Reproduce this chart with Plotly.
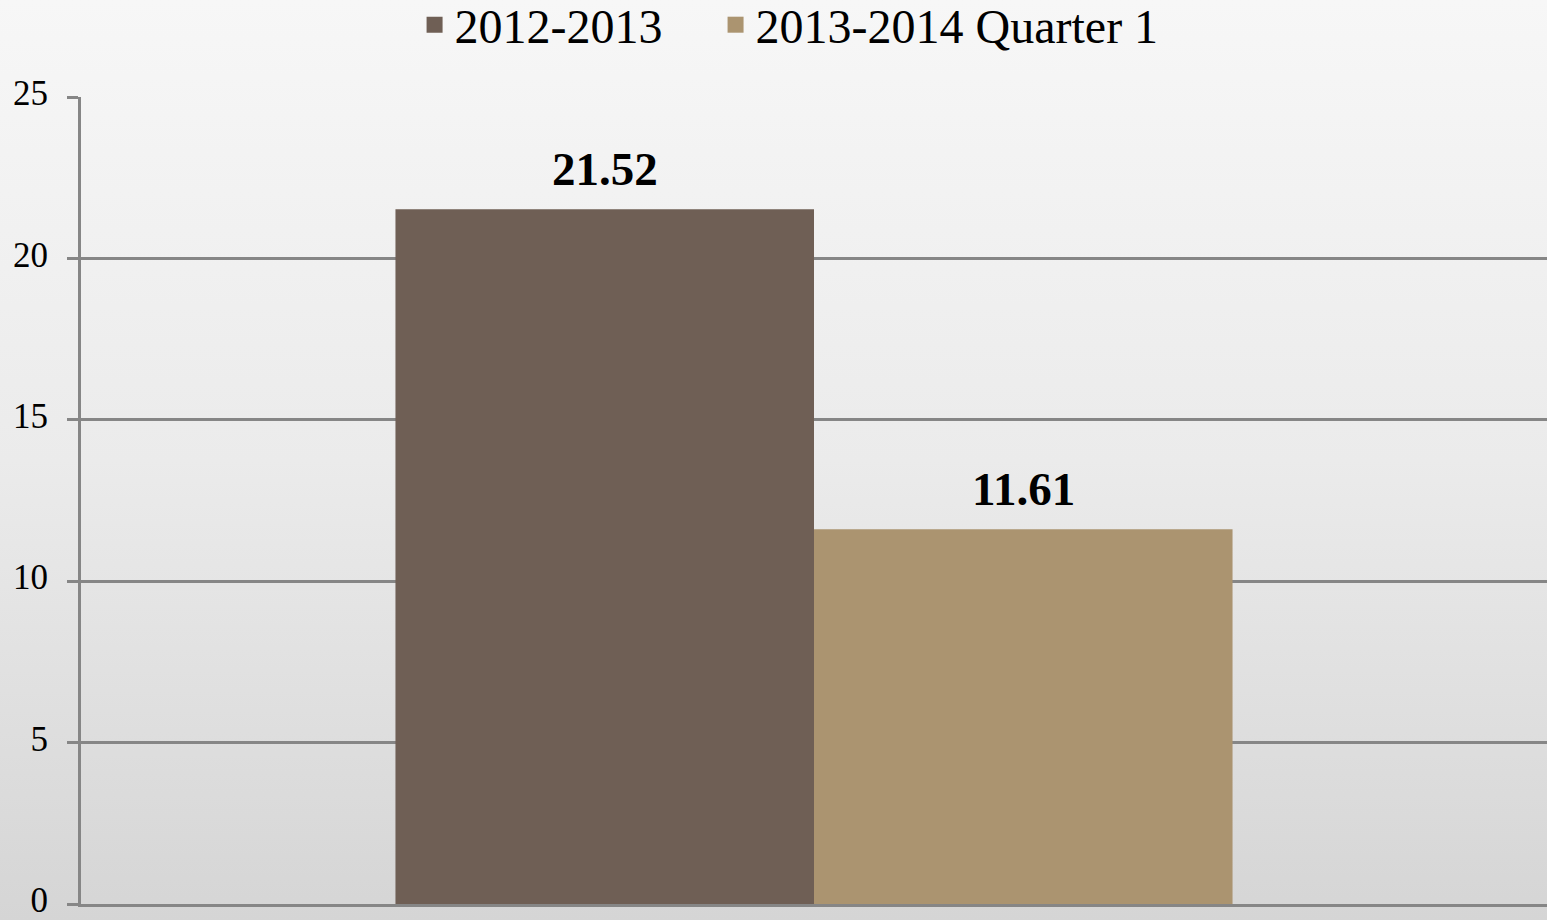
import plotly.graph_objects as go
import base64

categories = ["Total"]
series_names = ["2012-2013", "2013-2014 Quarter 1"]
values_2012 = [21.52]
values_2013 = [11.61]
bar_colors = ["#6f5f55", "#ab9470"]
y_ticks = [0, 5, 10, 15, 20, 25]

W, H = 1547, 920
ml, mr, mt, mb = 81, 0, 97, 16
pw, ph = W - ml - mr, H - mt - mb
bargap = 0.429
line_col = "#868686"

svg = f"""<svg xmlns='http://www.w3.org/2000/svg' width='{W}' height='{H}'>
<defs><linearGradient id='g' x1='0' y1='0' x2='0' y2='1'>
<stop offset='0' stop-color='#f7f7f7'/><stop offset='0.5' stop-color='#ebebeb'/><stop offset='1' stop-color='#d5d5d5'/>
</linearGradient></defs><rect width='{W}' height='{H}' fill='url(#g)'/></svg>"""
bg_uri = "data:image/svg+xml;base64," + base64.b64encode(svg.encode()).decode()

fig = go.Figure()
series_vals = [values_2012, values_2013]
for name, vals, col in zip(series_names, series_vals, bar_colors):
    fig.add_trace(go.Bar(
        x=categories, y=vals, name=name, marker=dict(color=col, line=dict(width=0)),
        showlegend=False,
    ))
# legend entries with square swatches
for k, (name, col) in enumerate(zip(series_names, bar_colors)):
    pad = "\u00a0" * 4 if k < len(series_names) - 1 else ""
    fig.add_trace(go.Scatter(
        x=[categories[0]], y=[None], mode="markers", name=name + pad,
        marker=dict(symbol="square", size=19, color=col),
    ))

# data labels above bars
bar_w = pw * (1 - bargap) / len(series_names)
annotations = []
for i, vals in enumerate(series_vals):
    offset = (i - (len(series_names) - 1) / 2) * bar_w
    for c, v in zip(categories, vals):
        annotations.append(dict(
            x=c, y=v, xref="x", yref="y", text=f"<b>{v:.2f}</b>", showarrow=False,
            xanchor="center", yanchor="bottom", xshift=offset, yshift=12,
            font=dict(family="Liberation Serif", size=47, color="black"),
        ))

fig.update_layout(
    width=W, height=H,
    margin=dict(l=ml, r=mr, t=mt, b=mb, autoexpand=False),
    barmode="group", bargap=bargap, bargroupgap=0,
    paper_bgcolor="#e8e8e8", plot_bgcolor="rgba(0,0,0,0)",
    font=dict(family="Liberation Serif", color="black"),
    showlegend=True,
    legend=dict(orientation="h", x=0.483, xanchor="center", yref="paper", y=(ph + mt - 25) / ph,
                yanchor="middle",
                font=dict(size=48, family="Liberation Serif"), bgcolor="rgba(0,0,0,0)",
                itemwidth=30, tracegroupgap=0),
    annotations=annotations,
    images=[dict(source=bg_uri, xref="paper", yref="paper", x=-ml / pw, y=1 + mt / ph,
                 sizex=W / pw, sizey=H / ph, sizing="stretch", layer="below", xanchor="left", yanchor="top")],
)
fig.update_yaxes(range=[0, 25], tickvals=y_ticks, showgrid=True, gridcolor=line_col, gridwidth=3,
                 showline=True, linecolor=line_col, linewidth=3, ticks="outside", ticklen=11,
                 tickcolor=line_col, tickwidth=3, tickfont=dict(size=35, family="Liberation Serif"),
                 ticklabelstandoff=12, ticklabelshift=-4, ticklabeloverflow="allow",
                 zeroline=False, automargin=False)
fig.update_xaxes(type="category", showline=True, linecolor=line_col, linewidth=3,
                 showticklabels=False, ticks="", automargin=False)

fig.write_html("out.html", config={"displayModeBar": False},
               post_script="document.body.style.margin='0';document.body.style.overflow='hidden';")
